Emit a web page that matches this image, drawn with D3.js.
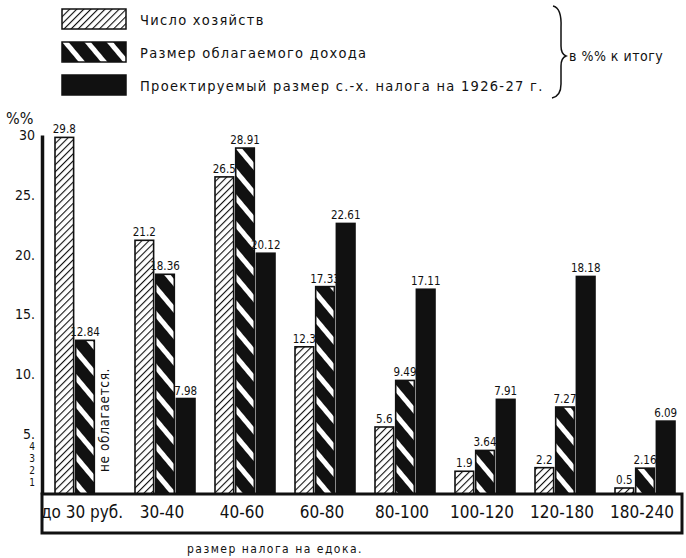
<!DOCTYPE html>
<html>
<head>
<meta charset="utf-8">
<script src="https://cdn.jsdelivr.net/npm/d3@7"></script>
<style>
  body { margin: 0; background: #fff; }
  text { font-family: "Liberation Sans Narrow", "DejaVu Sans Condensed", "Liberation Sans", sans-serif; fill: #111; }
</style>
</head>
<body>
<div id="vis"></div>
<script>
// Data
let categories = ['до 30 руб.', '30-40', '40-60', '60-80', '80-100', '100-120', '120-180', '180-240'];
let seriesNames = [
  'Число хозяйств',
  'Размер облагаемого дохода',
  'Проектируемый размер с.-х. налога на 1926-27 г.'
];
let households = [29.8, 21.2, 26.5, 12.3, 5.6, 1.9, 2.2, 0.5];
let income = [12.84, 18.36, 28.91, 17.33, 9.49, 3.64, 7.27, 2.16];
let tax = [null, 7.98, 20.12, 22.61, 17.11, 7.91, 18.18, 6.09];
let yTicks = [1, 2, 3, 4, 5, 10, 15, 20, 25, 30];

let width = 686,
    height = 558;

let margin = { top: 135, bottom: 63, left: 42, right: 4 };

let font = '"Liberation Sans Narrow", "DejaVu Sans Condensed", "Liberation Sans", sans-serif';

let svg = d3.select('#vis')
  .append('svg')
  .attr('width', width)
  .attr('height', height)
  .style('background', '#fff');

// Fill patterns
let defs = svg.append('defs');

let hatch = defs.append('pattern')
  .attr('id', 'hatch')
  .attr('patternUnits', 'userSpaceOnUse')
  .attr('width', 5).attr('height', 5)
  .attr('patternTransform', 'rotate(45)');
hatch.append('rect').attr('width', 5).attr('height', 5).attr('fill', '#fff');
hatch.append('line')
  .attr('x1', 0).attr('y1', 0).attr('x2', 0).attr('y2', 5)
  .attr('stroke', '#111').attr('stroke-width', 2.2);

let stripes = defs.append('pattern')
  .attr('id', 'stripes')
  .attr('patternUnits', 'userSpaceOnUse')
  .attr('width', 17).attr('height', 17)
  .attr('patternTransform', 'rotate(-40)');
stripes.append('rect').attr('width', 17).attr('height', 17).attr('fill', '#111');
stripes.append('rect').attr('x', 0).attr('width', 5).attr('height', 17).attr('fill', '#fff');

let fills = ['url(#hatch)', 'url(#stripes)', '#111'];

// Scales
let x0 = d3.scaleBand()
  .domain(categories)
  .range([margin.left, width - margin.right]);

let x1 = d3.scaleBand()
  .domain(d3.range(3))
  .range([13, 73])
  .paddingInner(0.1);

let y = d3.scaleLinear()
  .domain([0, 30])
  .range([494, margin.top]);

let baseY = y(0);

// Table of bars
let chartData = [];
categories.forEach((c, i) => {
  [households[i], income[i], tax[i]].forEach((v, s) => {
    if (v !== null) chartData.push({ category: c, series: s, value: v });
  });
});

// Bars
svg.selectAll('rect.bar')
  .data(chartData)
  .enter()
  .append('rect')
  .attr('class', 'bar')
  .attr('x', d => x0(d.category) + x1(d.series))
  .attr('y', d => y(d.value))
  .attr('width', x1.bandwidth())
  .attr('height', d => baseY - y(d.value))
  .attr('fill', d => fills[d.series])
  .attr('stroke', '#111')
  .attr('stroke-width', 1.6);

// Value labels
svg.selectAll('text.val')
  .data(chartData)
  .enter()
  .append('text')
  .attr('class', 'val')
  .attr('x', d => x0(d.category) + x1(d.series) + x1.bandwidth() / 2)
  .attr('y', d => y(d.value) - 4)
  .attr('text-anchor', 'middle')
  .style('font-size', '11.5px')
  .text(d => d.value);

// Note for the missing bar
svg.append('text')
  .attr('transform', `translate(${x0(categories[0]) + x1(2) + 13}, ${baseY - 22}) rotate(-90)`)
  .style('font-size', '13.5px')
  .style('letter-spacing', '0.6px')
  .text('не облагается.');

// Y axis
let yAxis = svg.append('g')
  .attr('transform', `translate(${margin.left}, 0)`)
  .call(d3.axisLeft(y)
    .tickValues(yTicks)
    .tickSize(0)
    .tickPadding(7)
    .tickFormat(d => d === 30 ? '30' : (d >= 5 ? d + '.' : d)));

yAxis.select('.domain')
  .attr('stroke', '#111')
  .attr('stroke-width', 3.5);

yAxis.selectAll('text')
  .style('font-family', font)
  .style('font-size', d => d < 5 ? '10px' : '14px')
  .attr('fill', '#111');

svg.append('text')
  .attr('x', 6)
  .attr('y', 124)
  .style('font-size', '16px')
  .text('%%');

// Category box under the baseline
svg.append('rect')
  .attr('x', margin.left)
  .attr('y', baseY)
  .attr('width', width - margin.right - margin.left)
  .attr('height', 39)
  .attr('fill', 'none')
  .attr('stroke', '#111')
  .attr('stroke-width', 3);

let xAxis = svg.append('g')
  .attr('transform', `translate(0, ${baseY})`)
  .call(d3.axisBottom(x0).tickSize(0).tickPadding(12));

xAxis.select('.domain').remove();
xAxis.selectAll('text')
  .style('font-family', font)
  .style('font-size', '17px')
  .attr('fill', '#111');

svg.append('text')
  .attr('x', 275)
  .attr('y', 553)
  .attr('text-anchor', 'middle')
  .style('font-size', '12px')
  .style('letter-spacing', '1.5px')
  .text('размер налога на едока.');

// Legend
let legend = svg.selectAll('g.legend')
  .data(seriesNames)
  .enter()
  .append('g')
  .attr('class', 'legend')
  .attr('transform', (d, i) => `translate(62, ${9 + i * 33})`);

legend.append('rect')
  .attr('width', 64)
  .attr('height', 20)
  .attr('fill', (d, i) => fills[i])
  .attr('stroke', '#111')
  .attr('stroke-width', 1.5);

legend.append('text')
  .attr('x', 78)
  .attr('y', 16)
  .style('font-size', '14.5px')
  .style('letter-spacing', '1.3px')
  .text(d => d);

// Brace and note
svg.append('path')
  .attr('d', 'M553,6 Q562,8 561,28 L561,46 Q561,54 566,56 Q561,58 561,66 L561,84 Q561,96 552,98')
  .attr('fill', 'none')
  .attr('stroke', '#111')
  .attr('stroke-width', 1.5);

svg.append('text')
  .attr('x', 569)
  .attr('y', 61)
  .style('font-size', '14px')
  .style('letter-spacing', '0.5px')
  .text('в %% к итогу');
</script>
</body>
</html>
